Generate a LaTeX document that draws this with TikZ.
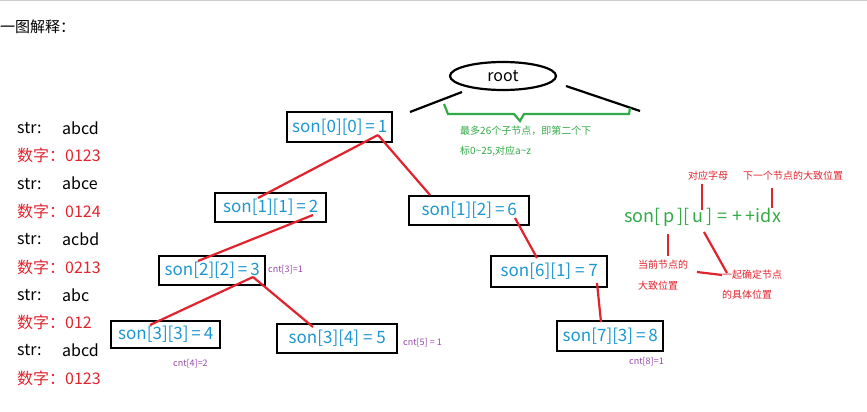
\documentclass[tikz,border=0pt]{standalone}
\usepackage{fontspec}
\setmainfont{Noto Sans CJK SC}
\usetikzlibrary{shapes.geometric}
\definecolor{sb}{RGB}{30,150,210}
\definecolor{rd}{RGB}{225,35,45}
\definecolor{gr}{RGB}{50,170,70}
\definecolor{pu}{RGB}{150,70,170}
\begin{document}
\begin{tikzpicture}[x=1pt,y=-1pt,
 box/.style={draw=black,line width=2.4pt,text=sb,font=\fontsize{17}{17}\selectfont,inner sep=0pt,anchor=north west},
 red/.style={draw=rd,line width=2.2pt},
 blk/.style={draw=black,line width=2.2pt},
 cnt/.style={text=pu,font=\fontsize{9}{9}\selectfont,inner sep=0pt},
 ann/.style={text=rd,font=\fontsize{10}{10}\selectfont,inner sep=0pt},
 lt/.style={font=\fontsize{16}{16}\selectfont,inner sep=0pt,anchor=west}]
\useasboundingbox (0,0) rectangle (867,412);
\draw[gray!40,line width=1pt] (0,0.5) -- (867,0.5);
\node[anchor=west,inner sep=0pt,font=\fontsize{15}{15}\selectfont] (hd) at (0,27) {一图解释：};
% left
\foreach \i/\s in {0/abcd,2/abce,4/acbd,6/abc,8/abcd}{
 \node[lt] (s\i) at (17,128+27.8*\i) {str:};
 \node[lt] (v\i) at (62,128+27.8*\i) {\s};}
\foreach \i/\s in {1/0123,3/0124,5/0213,7/012,9/0123}{
 \node[lt,text=rd] (d\i) at (17,128+27.8*\i) {数字：\s};}
% boxes
\node[box,minimum width=105pt,minimum height=30pt] (n1) at (286,111) {son[0][0]\,=\,1};
\node[box,minimum width=111pt,minimum height=29pt] (n2) at (214,192) {son[1][1]\,=\,2};
\node[box,minimum width=120pt,minimum height=29pt] (n6) at (408,195) {son[1][2]\,=\,6};
\node[box,minimum width=106pt,minimum height=29pt] (n3) at (158,255) {son[2][2]\,=\,3};
\node[box,minimum width=109pt,minimum height=27pt] (n4) at (110,320) {son[3][3]\,=\,4};
\node[box,minimum width=120pt,minimum height=29pt] (n5) at (276,323) {son[3][4] = 5};
\node[box,minimum width=116pt,minimum height=31pt] (n7) at (490,255) {son[6][1] = 7};
\node[box,minimum width=106pt,minimum height=30pt] (n8) at (556,320) {son[7][3]\,=\,8};
% root
\node[draw,ellipse,line width=2.2pt,minimum width=106pt,minimum height=28pt,font=\fontsize{16}{16}\selectfont] (root) at (503,76) {root};
\coordinate (la) at (410,112); \coordinate (lb) at (462,92);
\coordinate (ra) at (566,86); \coordinate (rb) at (640,111);
\draw[blk] (la) -- (lb); \draw[blk] (ra) -- (rb);
\coordinate (b1) at (444,104); \coordinate (b2) at (630,108); \coordinate (bt) at (520,121);
\draw[gr,line width=2.2pt] (b1) -- (448,114) -- (514,114) -- (bt) -- (524,114) -- (629,114) -- (b2);
\node[text=gr,anchor=west,inner sep=0pt,font=\fontsize{10}{10}\selectfont] (g1) at (460,131) {最多26个子节点，即第二个下};
\node[text=gr,anchor=west,inner sep=0pt,font=\fontsize{10}{10}\selectfont] (g2) at (460,151) {标0\textasciitilde25,对应a\textasciitilde z};
% red connectors
\coordinate (p1) at (378,135);
\draw[red] (p1) -- (258,198); \draw[red] (p1) -- (430,195);
\draw[red] (313,215) -- (198,261);
\coordinate (p3) at (253,277);
\draw[red] (p3) -- (150,325); \draw[red] (p3) -- (313,327);
\draw[red] (515,218) -- (537,258);
\draw[red] (597,283) -- (601,322);
% cnt
\node[cnt,anchor=west] (c3) at (268,270) {cnt[3]=1};
\node[cnt,anchor=west] (c4) at (173,364) {cnt[4]=2};
\node[cnt,anchor=west] (c5) at (403,343) {cnt[5] = 1};
\node[cnt,anchor=west] (c8) at (629,362) {cnt[8]=1};
% formula
\node[text=gr,anchor=west,inner sep=0pt,font=\fontsize{18}{18}\selectfont] (f) at (624,217) {son[\,p\,][\,u\,]\;=\;+\,+idx};
\node[ann] (a1) at (708,176) {对应字母};
\node[ann,anchor=west] (a2) at (743,176) {下一个节点的大致位置};
\draw[red] (702,184) -- (702,210);
\draw[red] (772,188) -- (772,208);
\draw[red] (668,234) -- (668,256);
\draw[red] (704,232) -- (727,273);
\draw[red] (697,272) -- (722,275);
\node[ann,anchor=west] (a3) at (638,265) {当前节点的};
\node[ann,anchor=west] (a4) at (638,286) {大致位置};
\node[ann,anchor=west] (a5) at (722,275) {一起确定节点};
\node[ann,anchor=west] (a6) at (722,295) {的具体位置};
\end{tikzpicture}
\end{document}
